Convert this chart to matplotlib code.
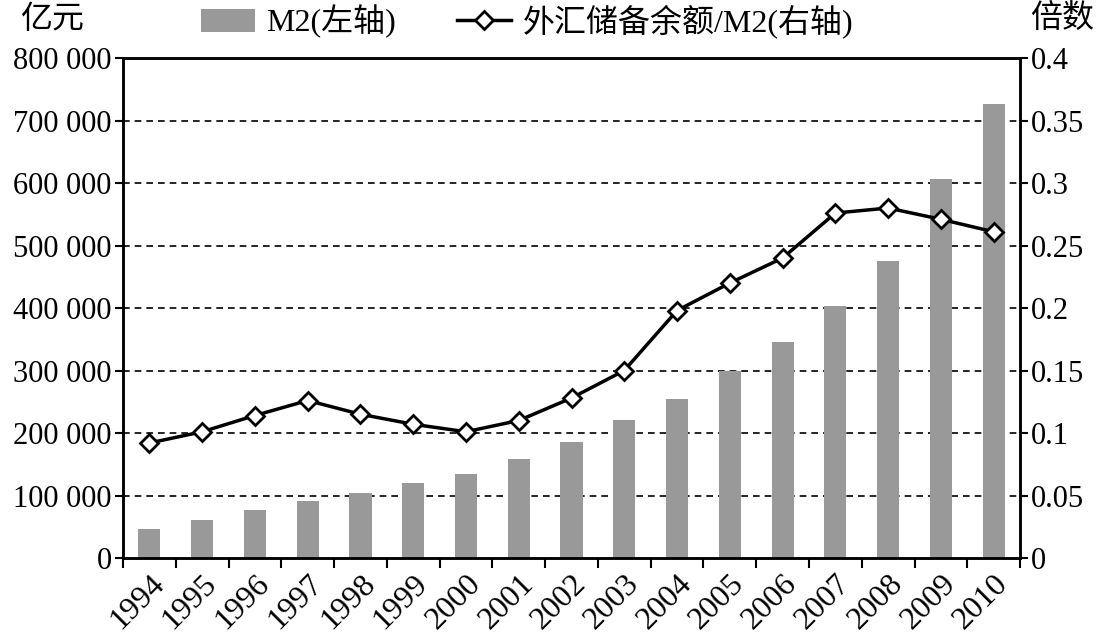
import matplotlib.pyplot as plt
import numpy as np

plt.rcParams['font.family'] = ['Liberation Serif', 'Noto Sans CJK SC']

years = ['1994', '1995', '1996', '1997', '1998', '1999', '2000', '2001', '2002',
         '2003', '2004', '2005', '2006', '2007', '2008', '2009', '2010']
m2 = [46923, 60750, 76095, 90995, 104499, 119898, 134610, 158302, 185007,
      221223, 254107, 298756, 345578, 403442, 475167, 606225, 725852]
ratio = [0.092, 0.101, 0.114, 0.126, 0.115, 0.107, 0.101, 0.110, 0.128,
         0.150, 0.198, 0.220, 0.240, 0.276, 0.280, 0.271, 0.261]
left_ticks = [0, 100000, 200000, 300000, 400000, 500000, 600000, 700000, 800000]
left_labels = ['0', '100 000', '200 000', '300 000', '400 000', '500 000',
               '600 000', '700 000', '800 000']
right_ticks = [0, 0.05, 0.1, 0.15, 0.2, 0.25, 0.3, 0.35, 0.4]
right_labels = ['0', '0.05', '0.1', '0.15', '0.2', '0.25', '0.3', '0.35', '0.4']

fs = 22
fig = plt.figure(figsize=(10.98, 6.38), dpi=100)
ax = fig.add_axes([0.112, 0.1254, 0.817, 0.7836])
x = np.arange(len(years))

bars = ax.bar(x, m2, width=0.42, color='#999999', label='M2(左轴)', zorder=2)
ax.set_xlim(-0.5, len(years) - 0.5)
ax.set_ylim(0, 800000)
ax.set_yticks(left_ticks)
ax.set_yticklabels(left_labels, fontsize=fs)
for t in left_ticks[1:-1]:
    ax.axhline(t, color='black', linestyle=(0, (4, 3)), linewidth=1.2, zorder=1)

ax.set_xticks(x)
ax.set_xticklabels(years, fontsize=fs + 1, rotation=45, ha='right', rotation_mode='anchor')
ax.set_xticks(np.arange(-0.5, len(years), 1), minor=True)
ax.tick_params(axis='x', which='major', length=0, pad=8)
ax.tick_params(axis='x', which='minor', length=7, width=1.5, direction='out')
ax.tick_params(axis='y', length=6, width=1.5, direction='out', pad=2)
for s in ax.spines.values():
    s.set_linewidth(1.8)

ax2 = ax.twinx()
line, = ax2.plot(x, ratio, color='black', linewidth=2.5, marker='D', markersize=9,
                 markerfacecolor='white', markeredgecolor='black', markeredgewidth=2,
                 label='外汇储备余额/M2(右轴)', zorder=3)
ax2.set_ylim(0, 0.4)
ax2.set_yticks(right_ticks)
ax2.set_yticklabels(right_labels, fontsize=fs)
ax2.tick_params(axis='y', length=6, width=1.5, direction='out', pad=2)
for s in ax2.spines.values():
    s.set_linewidth(1.8)

fig.text(0.047, 0.968, '亿元', fontsize=fs + 1, ha='center', va='center')
fig.text(0.967, 0.968, '倍数', fontsize=fs + 1, ha='center', va='center')
fig.legend([bars, line], ['M2(左轴)', '外汇储备余额/M2(右轴)'], ncol=2,
           loc='center', bbox_to_anchor=(0.48, 0.966), frameon=False,
           fontsize=fs + 1, handlelength=1.7, columnspacing=1.9, handletextpad=0.35)

fig.savefig('out.png', dpi=100, facecolor='white')
